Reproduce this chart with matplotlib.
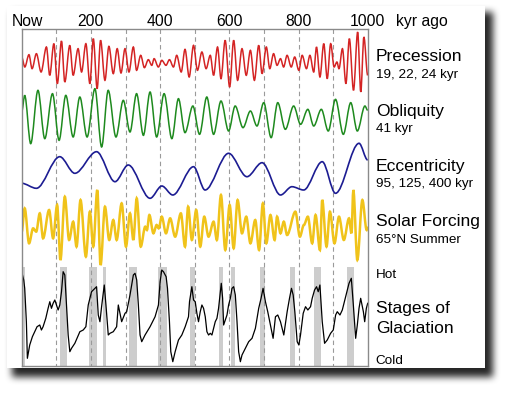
import numpy as np
import matplotlib
matplotlib.use("Agg")
import matplotlib.pyplot as plt
from matplotlib.path import Path
from matplotlib.patches import PathPatch, Rectangle

# --- values (time in kyr ago, relative units) ---
prec_t = [0, 9, 21, 30, 42.5, 56, 71.5, 81, 93, 103, 115, 124.6, 139, 148.7, 163, 173,
          185.5, 197, 207, 218, 228, 240.6, 252, 264.7, 276, 287, 298.6, 310, 322.7, 332,
          344, 354.6, 366, 376, 382.6, 395, 405, 417, 427, 438.6, 448, 461, 472, 484,
          496.6, 508, 520.8, 533, 545, 554.6, 566, 576, 588, 601, 612.6, 624, 636.7, 649,
          661, 672.5, 685, 694.7, 707, 717, 728, 738, 748, 757, 767, 779, 789, 801, 810.6,
          823, 833, 844, 852, 862, 873, 883, 893, 903, 911, 917, 927, 937, 947, 959, 971,
          980, 989, 1000]
prec_v = [15, -15, 22, -20, 25, -30, 45, -40, 55, -65, 63, -60, 50, -40, 40, -30,
          55, -65, 70, -80, 65, -55, 47, -35, 40, -33, 40, -30, 45, -25,
          20, -17, 7, -10, 10, -15, 5, -10, 7, -15, 20, -30, 38, -45,
          50, -25, 30, -20, 20, -40, 45, -50, 65, -75, 65, -55, 40, -40,
          35, -55, 50, -35, 45, -20, 25, -10, 10, -15, 20, -15, 15, -25, 20,
          -20, 20, -30, 45, -45, 55, -50, 55, -15, 0, -20, 40, -65, 70, -85, 90,
          -90, 75, -40]

obl_t = [0, 8.7, 26, 47, 66.7, 89, 108, 127.5, 148.7, 168, 189, 211.6, 231, 250, 272.5,
         293.6, 313, 332, 351.7, 371, 390, 411.6, 434, 453, 472, 494.7, 514, 535, 554.6,
         576, 598, 617, 639.6, 661, 680, 699.5, 721, 740, 762, 786, 806, 827, 844, 866,
         886, 907, 929.5, 951, 970, 992, 1000]
obl_v = [15, 65, -80, 80, -65, 70, -70, 65, -60, 60, -60, 85, -90, 80, -60,
         50, -45, 70, -55, 75, -60, 70, -65, 55, -47, 33, -52, 60, -52,
         48, -42, 33, -32, 18, -27, 43, -62, 43, -37, 33, -22, 23, -27, 23,
         -42, 53, -52, 43, -42, 33, 20]

ecc_t = [0, 42.5, 110, 153.6, 216.4, 269.6, 308, 371, 405, 436.7, 496.6, 530, 598, 651,
         694.7, 748, 781, 815, 868.6, 907, 975, 1000]
ecc_v = [-8.3, -13.3, 18.3, 1.7, 23.3, -6.7, 10, -23.3, -11, -20, 8.3, -15, 21.7, -1.7,
         12.3, -20, -11.7, -15, 13.3, -18.3, 31.7, 15]

sol_t = [0, 8.7, 21.3, 33, 42, 52.2, 61.8, 79.2, 90.8, 102.4, 112, 124.6, 137, 148.8,
         158.5, 170, 185.5, 197, 206.8, 218.4, 228, 240.6, 253, 264.7, 274.4, 288.9,
         301.4, 313, 322.7, 332.4, 344, 357, 362, 369, 380.7, 390, 396, 404.8, 417, 429,
         443.5, 460, 472, 481, 491.8, 504.4, 516, 527.6, 540, 554.6, 564, 575.9, 588.4,
         601, 612.6, 624, 636.7, 649, 661, 675, 686, 697, 707, 718.9, 731, 738, 748,
         757.5, 767, 791, 804, 815.5, 827, 839.6, 849.3, 862, 868.6, 881, 890.8, 904,
         917, 931, 946, 953, 958.5, 970, 984.6, 997, 1000]
sol_v = [-5, 65, -40, 5, -5, 50, -25, 60, -25, 75, -90, 100, -30, 25,
         -50, 90, -80, 55, -50, 120, -105, 70, -30, 30, -30, 80,
         -50, 50, -30, 95, -50, 10, 0, 45, -10, 15, 5, 40, -10, 35,
         -20, 50, -50, 70, -30, 60, -50, 40, -20, 25, -30, 105, -60,
         75, -55, 90, -10, 40, -40, 30, -60, 80, -40, 45, -30, 40, -10,
         25, -15, 55, -20, 15, 40, -40, 45, -60, 90, -50, 55, -40,
         40, -30, 35, -10, 120, -90, 90, 0, 10]

# glaciation: ice index (0 = hot, 100 = cold)
glac_t = [0, 5.8, 8.7, 13.5, 16.4, 23.2, 30.9, 37.7, 44.4, 52.2, 57, 61.8, 69.6, 76.3,
          81.2, 86, 90.8, 95.7, 100.5, 105.3, 110.1, 115, 119.8, 124.6, 129.5, 134.3,
          139.1, 144, 153.6, 168.1, 177.8, 185.5, 192.3, 197.1, 201.9, 206.8, 211.6,
          216.4, 221.3, 226.1, 230.9, 238.6, 243.5, 250.2, 255.1, 264.7, 274.4, 279.2,
          284.1, 288.9, 298.6, 303.4, 313, 322.7, 327.5, 332.4, 337.2, 342, 346.9, 356.5,
          371, 385.5, 395.2, 400, 404.8, 409.7, 417.4, 421.3, 427, 430.9, 436.7, 443.5,
          453.1, 462.8, 472.5, 482.1, 485, 491.8, 496.6, 501.5, 506.3, 511, 516, 520.8,
          525.6, 530.5, 535.3, 540.1, 545, 549.8, 554.6, 559.4, 564.3, 569, 574, 576.8,
          580.7, 583.6, 588.4, 593.3, 598, 603, 607.8, 612.6, 617.4, 622.3, 627, 632,
          636.7, 646.4, 656, 665.7, 675.4, 685, 691.8, 697.6, 704.4, 711.1, 718.9, 726.6,
          733.4, 740.1, 747.9, 757.5, 767.2, 774, 779.7, 784.6, 789.4, 796.2, 801, 805.8,
          813.6, 820.3, 827, 834.8, 839.6, 846.4, 852.2, 857, 861.9, 868.6, 875.4, 883.1,
          892.8, 900.5, 907.3, 912, 919.8, 926.6, 936.2, 946, 952.7, 958.5, 965.2, 970,
          974.9, 979.7, 987.5, 991.3, 996.1, 1000]
glac_v = [5.7, 14, 22.3, 55.7, 92.3, 79, 70.7, 65.7, 60.7, 59, 64, 60.7, 52.3, 42.3,
          35.7, 42.3, 37.3, 34, 39, 44, 39, 25.7, 5.7, 9, 39, 69,
          85.7, 82.3, 77.3, 65.7, 64, 60.7, 39, 32.3, 25.7, 24, 22.3,
          20.7, 49, 55.7, 40.7, 19, 39, 69, 67.3, 65.7, 60.7, 39,
          47.3, 55.7, 47.3, 45.7, 29, 9, 7.3, 14, 39, 69, 75.7, 69,
          60.7, 50.7, 39, 15.7, 4, 5.7, 10.7, 22.3, 55.7, 85.7, 95.7, 85.7,
          74, 69, 60.7, 50.7, 35.7, 20.7, 34, 35.7, 47.3, 55.7, 45.7, 39,
          42.3, 50.7, 65.7, 69, 67.3, 69, 62.3, 55.7, 52.3, 42.3, 25.7, 17.3,
          32.3, 59, 54, 49, 39, 32.3, 22.3, 20.7, 29, 55.7, 85.7, 95.7,
          89, 82.3, 75.7, 72.3, 62.3, 42.3, 32.3, 22.3, 35.7, 45.7, 59, 72.3,
          50.7, 49, 55.7, 69, 45.7, 32.3, 22.3, 29, 45.7, 75.7, 79, 69,
          47.3, 40.7, 44, 40.7, 32.3, 24, 20.7, 25.7, 19, 55.7, 77.3, 74,
          67.3, 64, 49, 45.7, 49, 44, 30.7, 17.3, 12.3, 39, 72.3, 59,
          42.3, 32.3, 45.7, 55.7, 42.3, 37.3]

interglacial_start = [0, 112, 195, 234, 310, 394, 485, 571, 605, 690, 774, 844.5, 941]
interglacial_end = [8.7, 130, 218, 243, 334, 419, 499.5, 581, 616.5, 703, 789, 864, 961]

top_ticks = [200, 400, 600, 800, 1000]


def wave(t, v, base, scale):
    # smooth curve through the turning points (flat tangent at each one)
    y = [base - a * scale for a in v]
    verts = [(t[0], y[0])]
    codes = [Path.MOVETO]
    for i in range(len(t) - 1):
        d = (t[i + 1] - t[i]) / 3.0
        verts += [(t[i] + d, y[i]), (t[i + 1] - d, y[i + 1]), (t[i + 1], y[i + 1])]
        codes += [Path.CURVE4] * 3
    return Path(verts, codes)


W, H = 509, 393
plt.rcParams['font.family'] = ['Liberation Sans', 'DejaVu Sans']
fig = plt.figure(figsize=(W / 100, H / 100), dpi=100)

# card with drop shadow
mask = np.zeros((H, W))
mask[12:377, 12:493] = 1.0
k = np.ones(7) / 7
for _ in range(3):
    mask = np.apply_along_axis(lambda m: np.convolve(m, k, mode='same'), 0, mask)
    mask = np.apply_along_axis(lambda m: np.convolve(m, k, mode='same'), 1, mask)
shadow = np.zeros((H, W, 4))
shadow[..., 3] = mask * 0.85
bg = fig.add_axes([0, 0, 1, 1])
bg.imshow(shadow, extent=(0, W, H, 0), aspect='auto', interpolation='nearest')
bg.add_patch(Rectangle((7, 6), 478, 362, facecolor='white', edgecolor='none'))
bg.set_xlim(0, W)
bg.set_ylim(H, 0)
bg.axis('off')

top, bottom = 29, 365.5
ax = fig.add_axes([21.7 / W, 1 - bottom / H, 346 / W, (bottom - top) / H])
ax.set_xlim(0, 1000)
ax.set_ylim(bottom, top)
ax.set_facecolor('none')
ax.set_xticks([])
ax.set_yticks([])
for s in ax.spines.values():
    s.set_color('#8a8a8a')
    s.set_linewidth(1.0)

# interglacial bands
ax.bar(interglacial_start, bottom - 266.7,
       width=np.array(interglacial_end) - np.array(interglacial_start),
       bottom=266.7, align='edge', color='#cdcdcd', zorder=1)
ax.vlines(np.arange(100, 1000, 100), top, bottom, colors='#9a9a9a',
          linestyles=(0, (4, 3)), linewidth=0.8, zorder=1.5)

ax.add_patch(PathPatch(wave(prec_t, prec_v, 62, 1 / 3), fill=False,
                       edgecolor='#d42424', lw=1.1, zorder=2))
ax.add_patch(PathPatch(wave(obl_t, obl_v, 117, 1 / 3), fill=False,
                       edgecolor='#1e8a1e', lw=1.1, zorder=2))
ax.add_patch(PathPatch(wave(ecc_t, ecc_v, 175, 1.0), fill=False,
                       edgecolor='#1c1c92', lw=1.2, zorder=2))
ax.add_patch(PathPatch(wave(sol_t, sol_v, 230, 1 / 3), fill=False,
                       edgecolor='#f0c31a', lw=1.8, zorder=2))
ax.plot(glac_t, 266 + np.array(glac_v), color='black', lw=0.9, zorder=2)

# top labels
ax.text(16, 26, 'Now', ha='center', va='baseline', fontsize=11.3, clip_on=False)
for v in top_ticks:
    ax.text(v, 26, str(v), ha='center', va='baseline', fontsize=11.3, clip_on=False)
ax.text(1157, 26, 'kyr ago', ha='center', va='baseline', fontsize=11.3, clip_on=False)

# right labels
xl = 1023
big = [('Precession', 60.7), ('Obliquity', 116), ('Eccentricity', 171),
       ('Solar Forcing', 226), ('Stages of', 312.7), ('Glaciation', 333.3)]
small = [('19, 22, 24 kyr', 78.3), ('41 kyr', 131.7), ('95, 125, 400 kyr', 187.3),
         ('65°N Summer', 243.3), ('Hot', 278.3), ('Cold', 364.3)]
for s, y in big:
    ax.text(xl, y, s, ha='left', va='baseline', fontsize=12.6, clip_on=False)
for s, y in small:
    ax.text(xl, y, s, ha='left', va='baseline', fontsize=9.7, clip_on=False)

fig.savefig('out.png', dpi=100)
